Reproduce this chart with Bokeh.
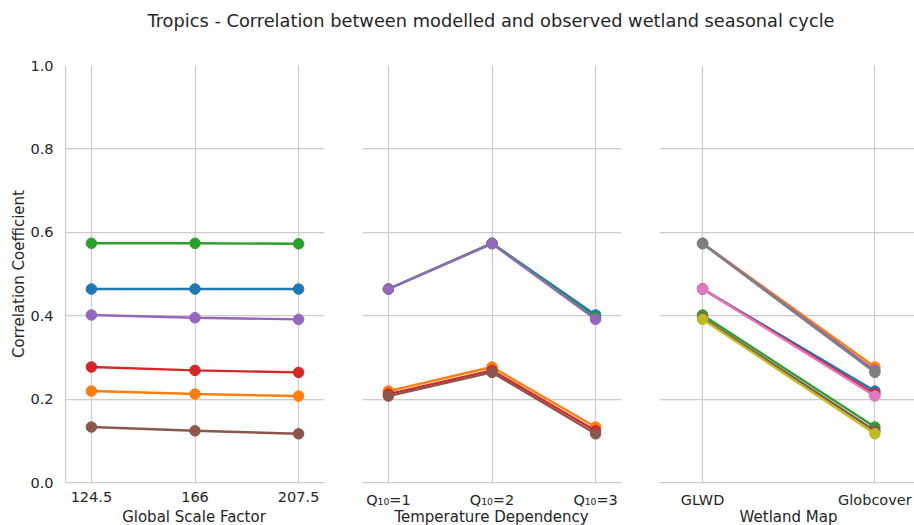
from bokeh.plotting import figure
from bokeh.layouts import column, row
from bokeh.models import Div, Range1d, FixedTicker, PrintfTickFormatter
from bokeh.embed import file_html
from bokeh.resources import INLINE

# ---- data (correlation coefficients) ----
scale_labels = ["124.5", "166", "207.5"]
q10_labels = ["Q\u2081\u2080=1", "Q\u2081\u2080=2", "Q\u2081\u2080=3"]
map_labels = ["GLWD", "Globcover"]

# values per scale factor (124.5, 166, 207.5)
glwd_q1 = [0.464, 0.464, 0.464]
glwd_q2 = [0.5736, 0.5736, 0.5725]
glwd_q3 = [0.4017, 0.3952, 0.3912]
globcover_q1 = [0.2193, 0.2121, 0.2073]
globcover_q2 = [0.277, 0.2688, 0.264]
globcover_q3 = [0.133, 0.124, 0.1168]

y_ticks = [0.0, 0.2, 0.4, 0.6, 0.8, 1.0]

palette = ["#1f77b4", "#ff7f0e", "#2ca02c", "#d62728", "#9467bd",
           "#8c564b", "#e377c2", "#7f7f7f", "#bcbd22", "#17becf"]

# cube[map][q10][scale]
cube = {
    0: [glwd_q1, glwd_q2, glwd_q3],
    1: [globcover_q1, globcover_q2, globcover_q3],
}

# panel 1: x = scale, hue = (q10, map)
p1_series = []
for q in range(3):
    for m in range(2):
        p1_series.append([cube[m][q][s] for s in range(3)])
# panel 2: x = q10, hue = (scale, map)
p2_series = []
for s in range(3):
    for m in range(2):
        p2_series.append([cube[m][q][s] for q in range(3)])
# panel 3: x = map, hue = (scale, q10)
p3_series = []
for s in range(3):
    for q in range(3):
        p3_series.append([cube[m][q][s] for m in range(2)])

FONT = "DejaVu Sans"
TXT = "#262626"
GRID = "#cccccc"
FIG_H = 472
BORDER_TOP = 27
BORDER_BOTTOM = 28


def make_panel(series, labels, width, x_end, border_left, border_right, show_y):
    n = len(labels)
    p = figure(width=width, height=FIG_H, output_backend="svg", toolbar_location=None,
               x_range=Range1d(-0.25, x_end), y_range=Range1d(0, 1),
               min_border_left=border_left, min_border_right=border_right,
               min_border_top=BORDER_TOP, min_border_bottom=BORDER_BOTTOM)
    p.outline_line_color = None
    p.background_fill_color = "white"
    p.border_fill_color = "white"
    xs = list(range(n))
    for i, vals in enumerate(series):
        c = palette[i]
        p.line(xs, vals, line_color=c, line_width=2.4)
        p.scatter(xs, vals, size=10.5, fill_color=c, line_color=c)
    ax = p.xaxis[0]
    ax.ticker = FixedTicker(ticks=xs)
    ax.major_label_overrides = {i: lab for i, lab in enumerate(labels)}
    ax.major_label_text_font = FONT
    ax.major_label_text_font_size = "14.5px"
    ax.major_label_text_color = TXT
    ax.major_label_standoff = 9
    ax.major_tick_out = 0
    ax.major_tick_in = 0
    ax.major_tick_line_color = None
    ax.minor_tick_line_color = None
    ax.axis_line_color = GRID
    ax.axis_line_width = 1.25

    p.xgrid.ticker = FixedTicker(ticks=xs)
    p.ygrid.ticker = FixedTicker(ticks=y_ticks)
    for g in (p.xgrid[0], p.ygrid[0]):
        g.grid_line_color = GRID
        g.grid_line_width = 1.25

    yax = p.yaxis[0]
    if show_y:
        yax.ticker = FixedTicker(ticks=y_ticks)
        yax.formatter = PrintfTickFormatter(format="%.1f")
        yax.major_label_text_font = FONT
        yax.major_label_text_font_size = "14.5px"
        yax.major_label_text_color = TXT
        yax.major_label_standoff = 6
        yax.major_tick_line_color = None
        yax.minor_tick_line_color = None
        yax.axis_line_color = GRID
        yax.axis_line_width = 1.25
        yax.axis_label = "Correlation Coefficient"
        yax.axis_label_text_font = FONT
        yax.axis_label_text_font_size = "15px"
        yax.axis_label_text_font_style = "normal"
        yax.axis_label_text_color = TXT
        yax.axis_label_standoff = -1
    else:
        yax.visible = False
    return p


def axis_title(text, width, inner_left, inner_width):
    return Div(
        text=(f'<div style="margin-left:{inner_left}px;width:{inner_width}px;'
              'text-align:center;margin-top:-1px;font-family:\'DejaVu Sans\';'
              f'font-size:15px;line-height:15px;color:{TXT};white-space:nowrap;">{text}</div>'),
        width=width, height=15, margin=(0, 0, 0, 0))


p1 = make_panel(p1_series, scale_labels, 343, 2.25, 65, 19, True)
p2 = make_panel(p2_series, q10_labels, 297, 2.25, 19, 19, False)
p3 = make_panel(p3_series, map_labels, 274, 1.23, 19, 0, False)

t1 = axis_title("Global Scale Factor", 343, 65, 258)
t2 = axis_title("Temperature Dependency", 297, 19, 259)
t3 = axis_title("Wetland Map", 274, 23, 251)

title = Div(
    text=('<div style="margin-left:68px;width:846px;text-align:center;'
          'padding-top:10px;font-family:\'DejaVu Sans\';font-size:17.8px;line-height:normal;'
          'color:#262626;white-space:nowrap;">'
          'Tropics - Correlation between modelled and observed wetland seasonal cycle</div>'),
    width=914, height=38, margin=(0, 0, 0, 0))

layout = column(title, row(p1, p2, p3), row(t1, t2, t3))
open("out.html", "w").write(file_html(layout, INLINE))
